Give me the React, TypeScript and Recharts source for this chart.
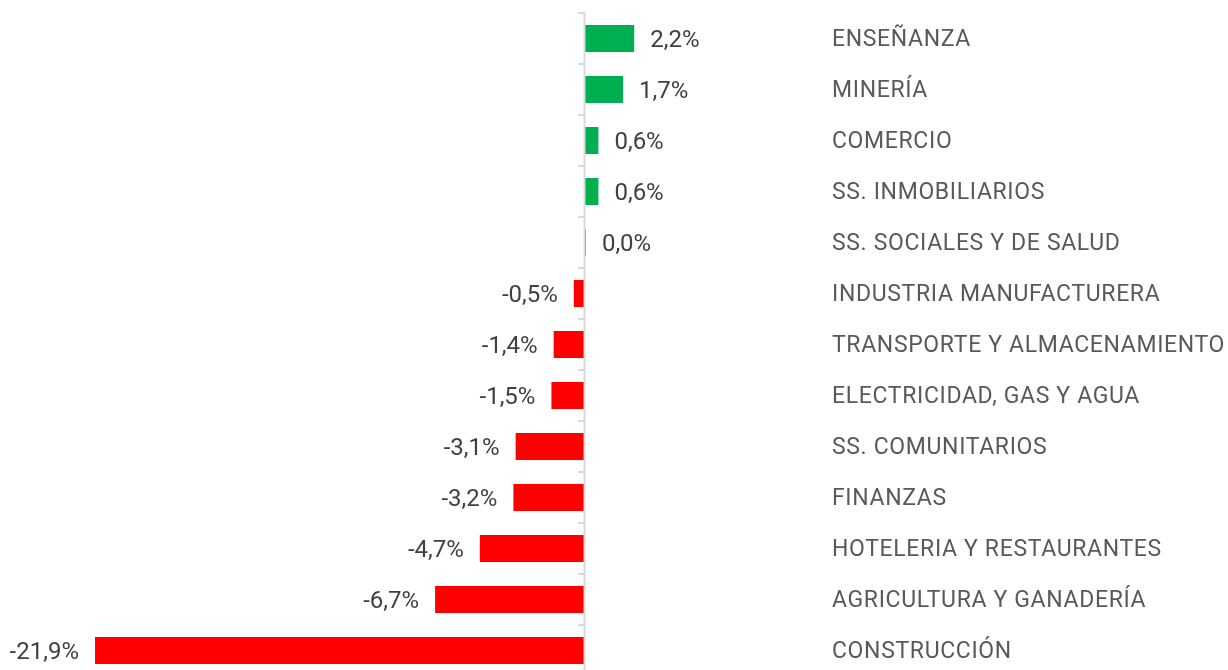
import { BarChart, Bar, XAxis, YAxis, ReferenceLine, LabelList, Cell } from 'recharts';

const sectors = [
  'ENSEÑANZA',
  'MINERÍA',
  'COMERCIO',
  'SS. INMOBILIARIOS',
  'SS. SOCIALES Y DE SALUD',
  'INDUSTRIA MANUFACTURERA',
  'TRANSPORTE Y ALMACENAMIENTO',
  'ELECTRICIDAD, GAS Y AGUA',
  'SS. COMUNITARIOS',
  'FINANZAS',
  'HOTELERIA Y RESTAURANTES',
  'AGRICULTURA Y GANADERÍA',
  'CONSTRUCCIÓN',
];

const growth = [2.2, 1.7, 0.6, 0.6, 0.04, -0.5, -1.4, -1.5, -3.1, -3.2, -4.7, -6.7, -21.9];

const data = sectors.map((name, i) => ({ name, value: growth[i] }));

const fmt = (v: number) => v.toFixed(1).replace('.', ',') + '%';

// zero axis line with tick marks between the categories
const ZeroAxis = (props: any) => {
  const { x1, y1, y2 } = props;
  const n = sectors.length;
  const step = (y2 - y1) / n;
  const ticks = [];
  for (let i = 0; i <= n; i++) {
    const y = y1 + i * step;
    ticks.push(<line key={i} x1={x1 - 7} x2={x1} y1={y} y2={y} stroke="#d9d9d9" strokeWidth={2} />);
  }
  return (
    <g>
      <line x1={x1 - 0.5} x2={x1 - 0.5} y1={y1} y2={y2} stroke="#d9d9d9" strokeWidth={2} />
      {ticks}
    </g>
  );
};

const ValueLabel = (props: any) => {
  const { x, y, width, height, value } = props;
  const left = Math.min(x, x + width);
  const right = Math.max(x, x + width);
  const pos = value >= 0;
  return (
    <text
      x={pos ? right + 16 : left - 16}
      y={y + height / 2}
      textAnchor={pos ? 'start' : 'end'}
      dominantBaseline="central"
      fill="#404040"
      fontSize={24}
      fontFamily="Roboto"
    >
      {fmt(value)}
    </text>
  );
};

export default function App() {
  // fixed so the taller-than-window chart does not add a scrollbar
  return (
    <div style={{ position: 'fixed', left: 8, top: 8 }}>
      <BarChart
        width={1220}
        height={668}
        data={data}
        layout="vertical"
        margin={{ top: 5, right: 0, bottom: 0, left: 17.65 }}
      >
        <XAxis type="number" domain={[-25, 10]} hide />
        <YAxis
          type="category"
          dataKey="name"
          orientation="right"
          width={419.26}
          axisLine={false}
          tickLine={false}
          tickSize={0}
          tickMargin={23.26}
          interval={0}
          tick={{ fill: '#595959', fontSize: 23, fontFamily: 'Roboto', textAnchor: 'start', letterSpacing: 0.65, dy: -1 }}
        />
        <ReferenceLine x={0} shape={ZeroAxis} />
        <Bar dataKey="value" barSize={27} isAnimationActive={false}>
          {data.map((d, i) => (
            <Cell key={i} fill={d.value >= 0 ? '#00b050' : '#ff0000'} />
          ))}
          <LabelList dataKey="value" content={ValueLabel} />
        </Bar>
      </BarChart>
    </div>
  );
}
